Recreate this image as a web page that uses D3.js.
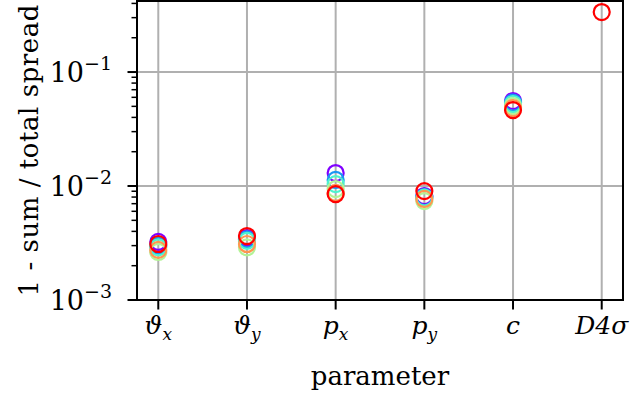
<!DOCTYPE html>
<html>
<head>
<meta charset="utf-8">
<script src="https://cdn.jsdelivr.net/npm/d3@7"></script>
<style>
  body { margin: 0; background: #fff; }
</style>
</head>
<body>
<div id="chart-area"></div>
<script>
/* 1 - sum / total spread per parameter, log scale */

var FONT = "'DejaVu Serif', 'Liberation Serif', serif";

// categories: base symbol + subscript
var categories = ["ϑx", "ϑy", "px", "py", "c", "D4σ"];
var catBase = ["ϑ", "ϑ", "p", "p", "c", "D4σ"];
var catSub = ["x", "y", "x", "y", "", ""];

// one array per series (rainbow colour order, purple -> red)
var series0 = [0.00323, 0.00350, 0.0130, 0.00817, 0.0557, null];
var series1 = [0.00300, 0.00340, 0.0113, 0.00800, 0.0540, null];
var series2 = [0.00290, 0.00330, 0.0104, 0.00790, 0.0524, null];
var series3 = [0.00264, 0.00290, 0.0094, 0.00738, 0.0503, null];
var series4 = [0.00275, 0.00310, 0.0087, 0.00770, 0.0483, null];
var series5 = [0.00310, 0.00364, 0.0085, 0.00903, 0.0464, 0.336];
var allSeries = [series0, series1, series2, series3, series4, series5];
var colors = ["#8000ff", "#1996f3", "#4df3ce", "#b3f396", "#ff964f", "#ff0000"];

var yTicks = [1e-3, 1e-2, 1e-1];
var yTickExp = ["−3", "−2", "−1"];

var margin = { left: 137, right: 8, top: 1, bottom: 96 };
var width = 631 - margin.left - margin.right;
var height = 396 - margin.top - margin.bottom;

var svg = d3.select("#chart-area")
    .append("svg")
    .attr("width", 631)
    .attr("height", 396);

var g = svg.append("g")
    .attr("transform", "translate(" + margin.left + "," + margin.top + ")");

var x = d3.scaleLinear()
    .domain([-0.24, categories.length - 1 + 0.24])
    .range([0, width]);

var y = d3.scaleLog()
    .domain([1e-3, 0.42])
    .range([height, 0]);

// grid
g.selectAll(".vgrid")
    .data(categories)
    .enter()
    .append("line")
    .attr("x1", function(d, i) { return x(i); })
    .attr("x2", function(d, i) { return x(i); })
    .attr("y1", 0)
    .attr("y2", height)
    .attr("stroke", "#b0b0b0")
    .attr("stroke-width", 2);

g.selectAll(".hgrid")
    .data(yTicks)
    .enter()
    .append("line")
    .attr("x1", 0)
    .attr("x2", width)
    .attr("y1", function(d) { return y(d); })
    .attr("y2", function(d) { return y(d); })
    .attr("stroke", "#b0b0b0")
    .attr("stroke-width", 2);

// y axis: major + minor ticks
var minor = [];
for (var e = -3; e <= -1; e++) {
    for (var m = 2; m <= 9; m++) {
        var v = m * Math.pow(10, e);
        if (v <= 0.42) minor.push(v);
    }
}
g.selectAll(".minor")
    .data(minor)
    .enter()
    .append("line")
    .attr("x1", -5.5)
    .attr("x2", 0)
    .attr("y1", function(d) { return y(d); })
    .attr("y2", function(d) { return y(d); })
    .attr("stroke", "#000")
    .attr("stroke-width", 1.5);

g.selectAll(".major")
    .data(yTicks)
    .enter()
    .append("line")
    .attr("x1", -9.5)
    .attr("x2", 0)
    .attr("y1", function(d) { return y(d); })
    .attr("y2", function(d) { return y(d); })
    .attr("stroke", "#000")
    .attr("stroke-width", 2);

var ylab = g.selectAll(".ylab")
    .data(yTicks)
    .enter()
    .append("text")
    .attr("x", -25)
    .attr("y", function(d) { return y(d) + 10; })
    .attr("text-anchor", "end")
    .attr("font-family", FONT)
    .attr("font-size", 27);
ylab.append("tspan").text("10");
ylab.append("tspan")
    .attr("dy", -12)
    .attr("font-size", 19)
    .text(function(d, i) { return yTickExp[i]; });

// x axis ticks
g.selectAll(".xtick")
    .data(categories)
    .enter()
    .append("line")
    .attr("x1", function(d, i) { return x(i); })
    .attr("x2", function(d, i) { return x(i); })
    .attr("y1", height)
    .attr("y2", height + 9.5)
    .attr("stroke", "#000")
    .attr("stroke-width", 2);

var xlab = g.selectAll(".xlab")
    .data(categories)
    .enter()
    .append("text")
    .attr("x", function(d, i) { return x(i); })
    .attr("y", height + 34)
    .attr("text-anchor", "middle")
    .attr("font-family", FONT)
    .attr("font-size", 25)
    .attr("font-style", "italic");
xlab.append("tspan").text(function(d, i) { return catBase[i]; });
xlab.append("tspan")
    .attr("dy", 6)
    .attr("font-size", 17)
    .text(function(d, i) { return catSub[i]; });

// markers, purple first so red ends on top
allSeries.forEach(function(s, k) {
    g.selectAll(".pt" + k)
        .data(s.map(function(v, i) { return { i: i, v: v }; })
            .filter(function(d) { return d.v != null; }))
        .enter()
        .append("circle")
        .attr("cx", function(d) { return x(d.i); })
        .attr("cy", function(d) { return y(d.v); })
        .attr("r", 8)
        .attr("fill", "none")
        .attr("stroke", colors[k])
        .attr("stroke-width", 2.2);
});

// frame
g.append("rect")
    .attr("x", 0)
    .attr("y", 0)
    .attr("width", width)
    .attr("height", height)
    .attr("fill", "none")
    .attr("stroke", "#000")
    .attr("stroke-width", 2);

// axis titles
svg.append("text")
    .attr("x", margin.left + width / 2)
    .attr("y", 385)
    .attr("text-anchor", "middle")
    .attr("font-family", FONT)
    .attr("font-size", 26)
    .text("parameter");

svg.append("text")
    .attr("transform", "translate(38," + (margin.top + height / 2) + ") rotate(-90)")
    .attr("text-anchor", "middle")
    .attr("font-family", FONT)
    .attr("font-size", 26)
    .attr("textLength", 292)
    .attr("lengthAdjust", "spacing")
    .text("1 - sum / total spread");
</script>
</body>
</html>
